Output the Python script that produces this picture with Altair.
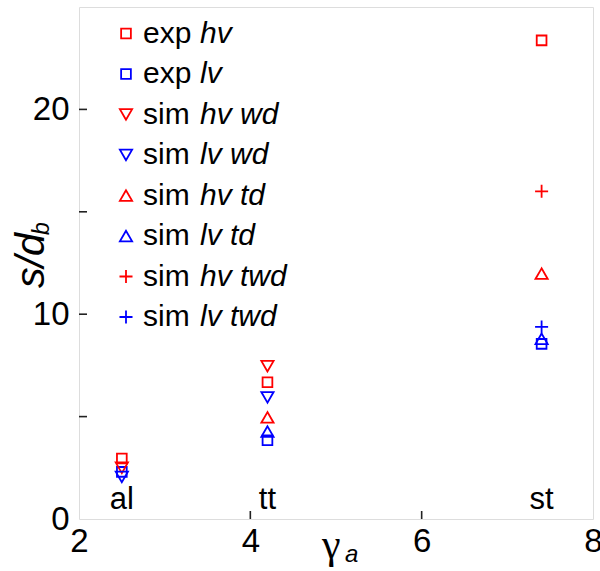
import altair as alt
import pandas as pd

# Sites and their gamma_a values
sites = ["al", "tt", "st"]
gamma_a = [2.5, 4.2, 7.4]

# s/d_b per series at each site (None = no point)
exp_hv = [2.95, 6.68, 23.37]
exp_lv = [2.3, 3.85, 8.55]
sim_hv_wd = [2.5, 7.46, None]
sim_lv_wd = [2.05, 5.94, None]
sim_hv_td = [None, 4.96, 11.98]
sim_lv_td = [None, 4.27, 8.8]
sim_hv_twd = [None, None, 16.0]
sim_lv_twd = [None, None, 9.38]

series_values = [exp_hv, exp_lv, sim_hv_wd, sim_lv_wd,
                 sim_hv_td, sim_lv_td, sim_hv_twd, sim_lv_twd]
series_prefix = ["exp", "exp", "sim", "sim", "sim", "sim", "sim", "sim"]
series_italic = ["hv", "lv", "hv wd", "lv wd", "hv td", "lv td", "hv twd", "lv twd"]

# Styling
RED, BLUE = "#ff0000", "#0000ff"
PLUS = "M-1,0L1,0M0,-1L0,1"
series_color = [RED, BLUE] * 4
series_shape = ["square", "square", "triangle-down", "triangle-down",
                "triangle-up", "triangle-up", PLUS, PLUS]
series_size = [95, 95, 150, 150, 150, 150, 170, 170]

FONT = "Liberation Sans"
W, H = 514, 512
Y_MAX = 25

rows = []
for i, vals in enumerate(series_values):
    for g, v in zip(gamma_a, vals):
        if v is not None:
            rows.append({"g": g, "v": v, "series": i,
                         "color": series_color[i], "shape": series_shape[i],
                         "size": series_size[i]})
pts = pd.DataFrame(rows)

x_scale = alt.Scale(domain=[2, 8], nice=False, zero=False)
y_scale = alt.Scale(domain=[0, Y_MAX], nice=False)

points = alt.Chart(pts).mark_point(filled=False, strokeWidth=1.8, opacity=1).encode(
    x=alt.X("g:Q", scale=x_scale,
            axis=alt.Axis(values=[2, 4, 6, 8], format="d", ticks=False, domain=False,
                          grid=False, labelFontSize=33, labelFont=FONT,
                          labelColor="black", labelPadding=6, title=None,
                          labelFlush=False)),
    y=alt.Y("v:Q", scale=y_scale,
            axis=alt.Axis(values=[0, 10, 20], format="d", ticks=False, domain=False,
                          grid=False, labelFontSize=33, labelFont=FONT,
                          labelColor="black", labelPadding=10, title=None,
                          labelFlush=False)),
    color=alt.Color("color:N", scale=None),
    shape=alt.Shape("shape:N", scale=None),
    size=alt.Size("size:Q", scale=None),
    order=alt.Order("series:Q"),
)

# Site names along the bottom of the plot
site_df = pd.DataFrame({"g": gamma_a, "site": sites, "v": [0.5] * 3})
site_text = alt.Chart(site_df).mark_text(
    font=FONT, fontSize=31, baseline="alphabetic", align="center", color="black"
).encode(x=alt.X("g:Q", scale=x_scale), y=alt.Y("v:Q", scale=y_scale), text="site:N")

# Inward tick marks
ytick_df = pd.DataFrame({"v": [5, 10, 15, 20]})
yticks = alt.Chart(ytick_df).mark_rule(color="#222", strokeWidth=1.6).encode(
    y=alt.Y("v:Q", scale=y_scale), x=alt.value(0), x2=alt.value(8))
xtick_df = pd.DataFrame({"g": [4, 6]})
xticks = alt.Chart(xtick_df).mark_rule(color="#222", strokeWidth=1.6).encode(
    x=alt.X("g:Q", scale=x_scale), y=alt.value(H), y2=alt.value(H - 8))

# Legend drawn inside the plot, top-left
row_px = [26.5 + 40.5 * i for i in range(len(series_italic))]
leg = pd.DataFrame({
    "v": [Y_MAX * (1 - p / H) for p in row_px],
    "prefix": series_prefix,
    "italic": series_italic,
    "color": series_color,
    "shape": series_shape,
    "size": series_size,
})
leg_sym = alt.Chart(leg).mark_point(filled=False, strokeWidth=1.8, opacity=1).encode(
    x=alt.value(47), y=alt.Y("v:Q", scale=y_scale),
    color=alt.Color("color:N", scale=None),
    shape=alt.Shape("shape:N", scale=None),
    size=alt.Size("size:Q", scale=None),
)
leg_pre = alt.Chart(leg).mark_text(
    font=FONT, fontSize=30, align="left", baseline="alphabetic", dy=9, color="black"
).encode(x=alt.value(64), y=alt.Y("v:Q", scale=y_scale), text="prefix:N")
leg_it = alt.Chart(leg).mark_text(
    font=FONT, fontSize=30, fontStyle="italic", align="left", baseline="alphabetic",
    dy=9, color="black"
).encode(x=alt.value(121), y=alt.Y("v:Q", scale=y_scale), text="italic:N")

# Axis titles with subscripts
def label(txt, x, y, size, italic=True, angle=0, font=FONT):
    kw = dict(font=font, fontSize=size, align="left", baseline="alphabetic",
              color="black", angle=angle)
    if italic:
        kw["fontStyle"] = "italic"
    return alt.Chart(pd.DataFrame({"t": [txt]})).mark_text(**kw).encode(
        x=alt.value(x), y=alt.value(y), text="t:N")

y_title = label("s/d", -35, 281, 41, angle=270)
y_sub = label("b", -30, 228, 23, angle=270)
x_title = label("γ", 243, 551, 42, italic=False, font="Liberation Serif")
x_sub = label("a", 266, 555, 24)

chart = alt.layer(
    yticks, xticks, site_text, points, leg_sym, leg_pre, leg_it,
    y_title, y_sub, x_title, x_sub
).properties(
    width=W, height=H,
    autosize=alt.AutoSizeParams(type="none"),
    padding={"left": 79, "top": 7, "right": 7, "bottom": 52},
).configure_view(stroke="#222", strokeWidth=2).configure(background="white")

chart.save("out.html", embed_options={"renderer": "svg", "actions": False})
